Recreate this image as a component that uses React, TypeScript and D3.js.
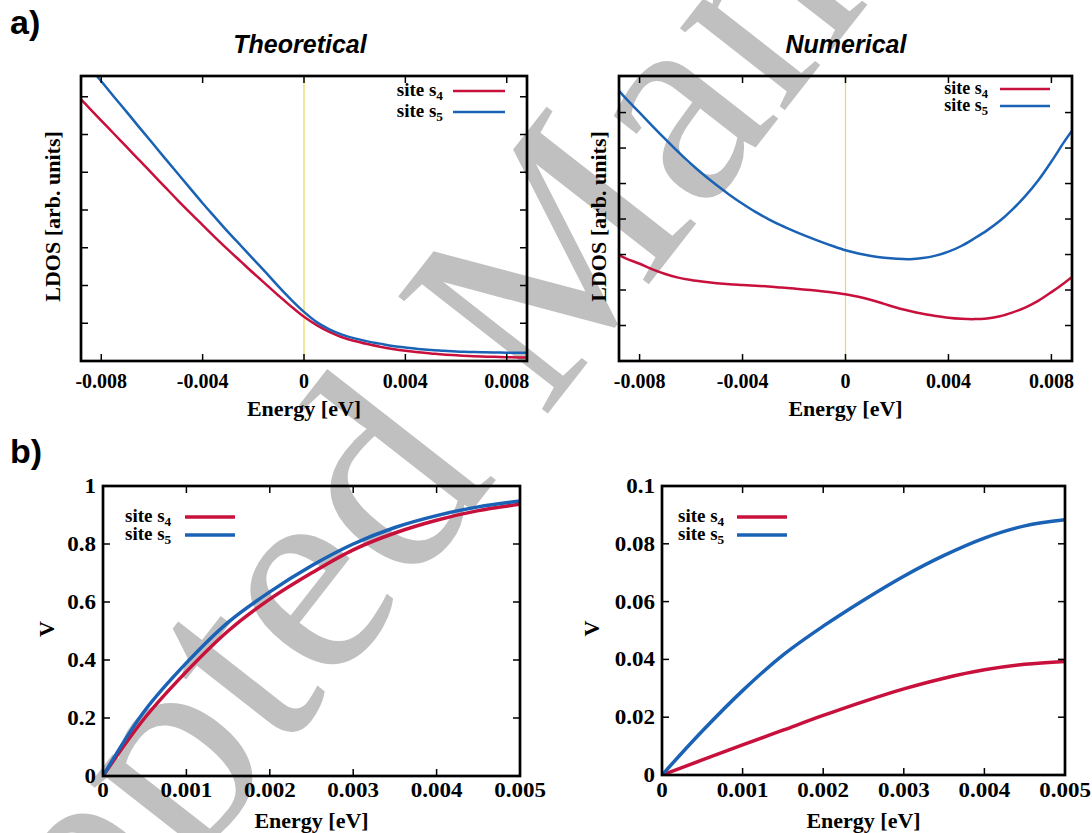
import React from 'react'
import * as d3 from 'd3'

const W = 1092
const H = 833

// a) local density of states, arbitrary units (1 = one y tick)
const ldosEnergy = [-0.0088, -0.0085, -0.008, -0.0075, -0.007, -0.0065, -0.006, -0.0055, -0.005, -0.0045,
  -0.004, -0.0035, -0.003, -0.0025, -0.002, -0.0015, -0.001, -0.0005, 0, 0.0005, 0.001, 0.0015, 0.002,
  0.0025, 0.003, 0.0035, 0.004, 0.0045, 0.005, 0.0055, 0.006, 0.0065, 0.007, 0.0075, 0.008, 0.0085, 0.0088]
const theoLdosS4 = [6.93, 6.72, 6.37, 6.02, 5.67, 5.32, 4.97, 4.62, 4.27, 3.93, 3.6, 3.27, 2.95, 2.64, 2.33,
  2.03, 1.73, 1.44, 1.17, 0.95, 0.77, 0.63, 0.53, 0.45, 0.38, 0.32, 0.27, 0.23, 0.2, 0.17, 0.15, 0.135,
  0.12, 0.11, 0.1, 0.095, 0.09]
const theoLdosS5 = [8.05, 7.81, 7.41, 7.0, 6.6, 6.19, 5.79, 5.38, 4.98, 4.58, 4.18, 3.8, 3.42, 3.06, 2.7,
  2.34, 1.97, 1.62, 1.3, 1.03, 0.84, 0.7, 0.6, 0.52, 0.46, 0.4, 0.36, 0.32, 0.29, 0.27, 0.25, 0.24, 0.23,
  0.225, 0.22, 0.22, 0.22]
const numLdosS4 = [2.98, 2.88, 2.74, 2.58, 2.45, 2.35, 2.28, 2.23, 2.19, 2.16, 2.14, 2.12, 2.1, 2.07, 2.04,
  2.01, 1.97, 1.93, 1.88, 1.81, 1.72, 1.61, 1.5, 1.41, 1.33, 1.27, 1.22, 1.19, 1.18, 1.2, 1.26, 1.37,
  1.51, 1.7, 1.94, 2.2, 2.37]
const numLdosS5 = [7.61, 7.37, 7.0, 6.62, 6.25, 5.89, 5.55, 5.24, 4.95, 4.68, 4.43, 4.2, 4.0, 3.82, 3.66,
  3.51, 3.37, 3.24, 3.12, 3.03, 2.96, 2.91, 2.88, 2.87, 2.9, 2.97, 3.08, 3.24, 3.45, 3.68, 3.95, 4.28,
  4.66, 5.1, 5.62, 6.18, 6.49]
const ldosTicks = [-0.008, -0.004, 0, 0.004, 0.008]
const ldosTickLabels = ['-0.008', '-0.004', '0', '0.004', '0.008']
const ldosYTicks = [1, 2, 3, 4, 5, 6, 7]

// b) V versus energy
const vEnergy = [0, 0.0005, 0.001, 0.0015, 0.002, 0.0025, 0.003, 0.0035, 0.004, 0.0045, 0.005]
const theoVS4 = [0, 0.2, 0.36, 0.5, 0.61, 0.7, 0.78, 0.838, 0.882, 0.915, 0.937]
const theoVS5 = [0, 0.225, 0.39, 0.53, 0.635, 0.725, 0.8, 0.857, 0.898, 0.928, 0.948]
const numVS4 = [0, 0.0052, 0.0104, 0.0155, 0.0206, 0.0254, 0.0298, 0.0335, 0.0364, 0.0383, 0.0393]
const numVS5 = [0, 0.0152, 0.0292, 0.0415, 0.0515, 0.0605, 0.0688, 0.076, 0.082, 0.0862, 0.0883]
const vEnergyTicks = [0, 0.001, 0.002, 0.003, 0.004, 0.005]
const vEnergyTickLabels = ['0', '0.001', '0.002', '0.003', '0.004', '0.005']
const theoVTicks = [0, 0.2, 0.4, 0.6, 0.8, 1]
const theoVTickLabels = ['0', '0.2', '0.4', '0.6', '0.8', '1']
const numVTicks = [0, 0.02, 0.04, 0.06, 0.08, 0.1]
const numVTickLabels = ['0', '0.02', '0.04', '0.06', '0.08', '0.1']

const siteSubs = ['4', '5']
const colors = ['#c8103c', '#1a62b5']

const serif = '"Liberation Serif", "Times New Roman", serif'
const sans = '"Liberation Sans", Arial, sans-serif'

function Panel(props: any) {
  const { id, box, xDomain, yDomain, xs, series, xTicks, xTickLabels, yTicks, yTickLabels,
    lw, legend, yLabel, yLabelX, xTickY, xLabelY, zeroLine, tickSx } = props
  const [left, right, top, bottom] = box
  const x = d3.scaleLinear().domain(xDomain).range([left, right])
  const y = d3.scaleLinear().domain(yDomain).range([bottom, top])
  const line = d3.line<number>()
    .x((d, i) => x(xs[i]))
    .y(d => y(d))
    .curve(d3.curveCatmullRom.alpha(0.5))
  const tl = 7
  return (
    <g>
      <defs>
        <clipPath id={id}>
          <rect x={left} y={top} width={right - left} height={bottom - top} />
        </clipPath>
      </defs>
      {zeroLine && (
        <line x1={x(0)} x2={x(0)} y1={top} y2={bottom} stroke="#ecd860" strokeWidth={1.2} />
      )}
      <g clipPath={`url(#${id})`}>
        {series.map((s: number[], i: number) => (
          <path key={i} d={line(s) || ''} fill="none" stroke={colors[i]} strokeWidth={lw} />
        ))}
      </g>
      {xTicks.map((t: number, i: number) => (
        <g key={'x' + i}>
          <line x1={x(t)} x2={x(t)} y1={bottom} y2={bottom - tl} stroke="#000" strokeWidth={1.5} />
          <line x1={x(t)} x2={x(t)} y1={top} y2={top + tl} stroke="#000" strokeWidth={1.5} />
          <text transform={`translate(${x(t)},${xTickY}) scale(${tickSx},1)`} textAnchor="middle"
            fontFamily={serif} fontWeight="bold" fontSize={20}>{xTickLabels[i]}</text>
        </g>
      ))}
      {yTicks.map((t: number, i: number) => (
        <g key={'y' + i}>
          <line x1={left} x2={left + tl} y1={y(t)} y2={y(t)} stroke="#000" strokeWidth={1.5} />
          <line x1={right} x2={right - tl} y1={y(t)} y2={y(t)} stroke="#000" strokeWidth={1.5} />
          {yTickLabels && (
            <text transform={`translate(${left - 7},${y(t) + 7}) scale(${tickSx},1)`} textAnchor="end"
              fontFamily={serif} fontWeight="bold" fontSize={20}>{yTickLabels[i]}</text>
          )}
        </g>
      ))}
      <rect x={left} y={top} width={right - left} height={bottom - top} fill="none" stroke="#000" strokeWidth={2.7} />
      <text x={(left + right) / 2} y={xLabelY} textAnchor="middle" fontFamily={serif} fontWeight="bold" fontSize={22}>
        Energy [eV]
      </text>
      <text transform={`translate(${yLabelX},${(top + bottom) / 2 - 2}) rotate(-90)`} textAnchor="middle"
        dominantBaseline="central" fontFamily={serif} fontWeight="bold" fontSize={22}>{yLabel}</text>
      {siteSubs.map((sub, i) => (
        <g key={'l' + i}>
          <text x={legend.textX} y={legend.rows[i] + 5} textAnchor={legend.anchor}
            fontFamily={serif} fontWeight="bold" fontSize={legend.fs}>
            <tspan>site s</tspan>
            <tspan dy={4} fontSize={legend.fs * 0.7}>{sub}</tspan>
          </text>
          <line x1={legend.x0} x2={legend.x1} y1={legend.rows[i]} y2={legend.rows[i]} stroke={colors[i]} strokeWidth={lw} />
        </g>
      ))}
    </g>
  )
}

export default function App() {
  return (
    <svg width={W} height={H} style={{ position: 'absolute', left: 0, top: 0, background: '#fff' }}>
      <rect x={0} y={0} width={W} height={H} fill="#fff" />
      <text x={-176} y={1340} transform="rotate(-52 -176 1340)" fontFamily={serif} fontSize={290} fill="#c0c0c0">
        Accepted Manuscript
      </text>

      <text x={10} y={34} fontFamily={sans} fontWeight="bold" fontSize={34}>a)</text>
      <text x={10} y={463} fontFamily={sans} fontWeight="bold" fontSize={34}>b)</text>
      <text x={300} y={53} textAnchor="middle" fontFamily={sans} fontWeight="bold" fontStyle="italic" fontSize={25}>Theoretical</text>
      <text x={846} y={53} textAnchor="middle" fontFamily={sans} fontWeight="bold" fontStyle="italic" fontSize={25}>Numerical</text>

      <Panel id="c1" box={[81, 527, 76, 361]} xDomain={[-0.0088, 0.0088]} yDomain={[0, 7.55]}
        xs={ldosEnergy} series={[theoLdosS4, theoLdosS5]} xTicks={ldosTicks} xTickLabels={ldosTickLabels}
        yTicks={ldosYTicks} yTickLabels={null} lw={2.5} zeroLine tickSx={1}
        legend={{ anchor: 'end', textX: 443, x0: 453, x1: 505, rows: [91, 112], fs: 19 }}
        yLabel="LDOS [arb. units]" yLabelX={52} xTickY={388} xLabelY={416} />
      <Panel id="c2" box={[619, 1072, 76, 361]} xDomain={[-0.0088, 0.0088]} yDomain={[0, 8.03]}
        xs={ldosEnergy} series={[numLdosS4, numLdosS5]} xTicks={ldosTicks} xTickLabels={ldosTickLabels}
        yTicks={ldosYTicks} yTickLabels={null} lw={2.5} zeroLine tickSx={1}
        legend={{ anchor: 'end', textX: 988, x0: 1000, x1: 1050, rows: [89, 106], fs: 18 }}
        yLabel="LDOS [arb. units]" yLabelX={598} xTickY={388} xLabelY={416} />
      <Panel id="c3" box={[103, 520, 486, 776]} xDomain={[0, 0.005]} yDomain={[0, 1]}
        xs={vEnergy} series={[theoVS4, theoVS5]} xTicks={vEnergyTicks} xTickLabels={vEnergyTickLabels}
        yTicks={theoVTicks} yTickLabels={theoVTickLabels} lw={3.5} tickSx={1.15}
        legend={{ anchor: 'start', textX: 125, x0: 185, x1: 235, rows: [517, 535], fs: 19 }}
        yLabel="V" yLabelX={46} xTickY={797} xLabelY={828} />
      <Panel id="c4" box={[662, 1065, 486, 775]} xDomain={[0, 0.005]} yDomain={[0, 0.1]}
        xs={vEnergy} series={[numVS4, numVS5]} xTicks={vEnergyTicks} xTickLabels={vEnergyTickLabels}
        yTicks={numVTicks} yTickLabels={numVTickLabels} lw={3.5} tickSx={1.15}
        legend={{ anchor: 'start', textX: 678, x0: 737, x1: 787, rows: [517, 535], fs: 19 }}
        yLabel="V" yLabelX={591} xTickY={797} xLabelY={828} />
    </svg>
  )
}
